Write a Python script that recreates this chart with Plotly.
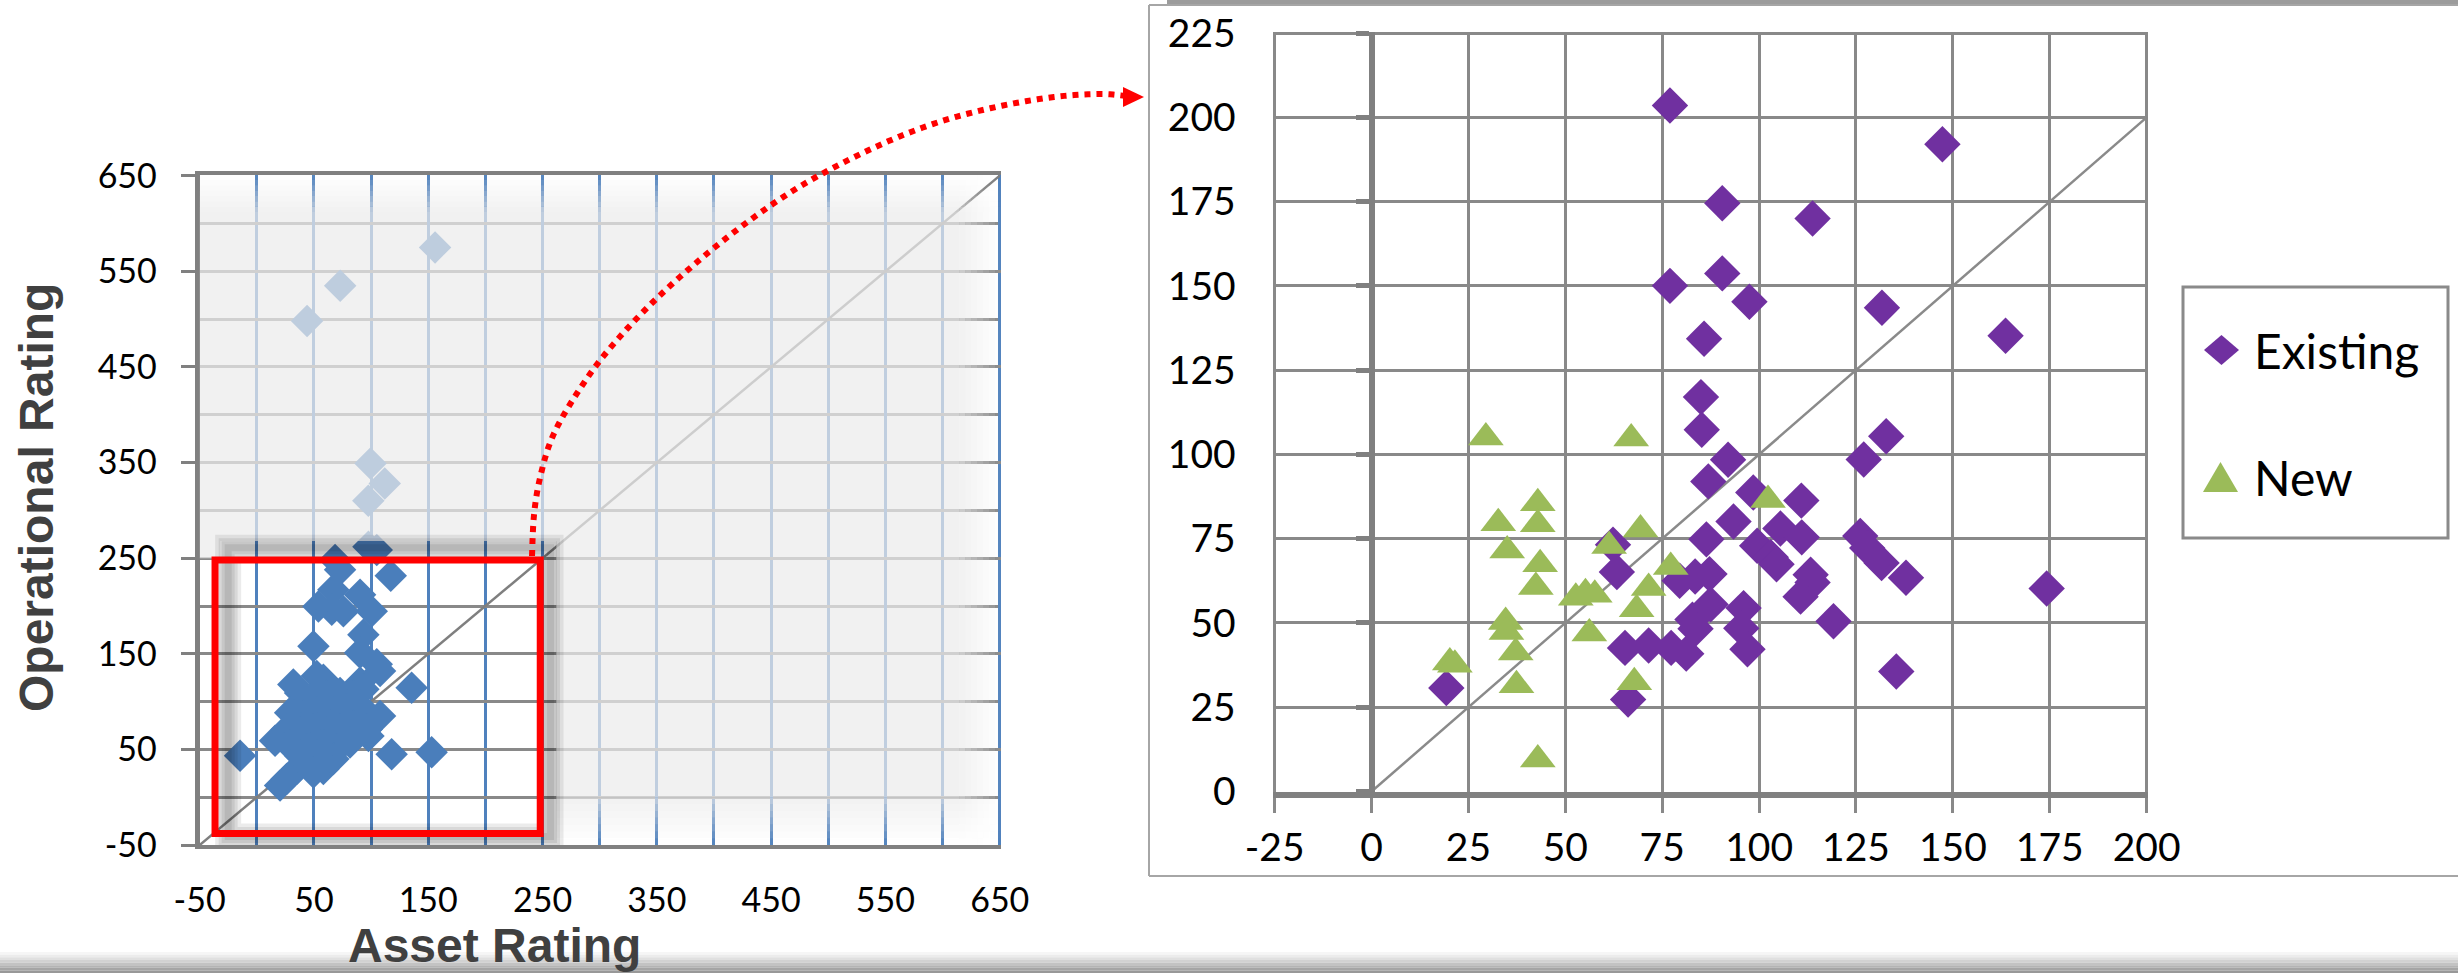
import plotly.graph_objects as go

W, H = 2458, 973

# ---------------- data: full portfolio (left panel) ----------------
all_asset = [156, 73, 44, 99.5, 112, 97.6,
             97.7, 105, 68.5, 72.9, 117.2, 67, 90.4, 53.9, 65.6, 75.8, 100.6,
             49.6, 93.3, 90.4, 105, 107.9, 135.5, 32, 52.5, 58.3, 90.4,
             -14.6, 16, 20.4, 118, 153, 107.9, 97.7,
             37.9, 46.6, 61.2, 72.9, 84.5, 93.3,
             29.2, 40.8, 52.5, 67, 78.7, 90.4,
             26.2, 37.9, 49.6, 61.2, 72.9, 84.5, 96.2,
             29.2, 43.7, 55.4, 70, 81.6,
             35, 46.6, 58.3, 67, 52.5, 37.9, 49.6, 26.2]
all_operational = [575, 535, 498, 349, 328, 310,
                   262, 258.7, 248, 237.8, 231.6, 217, 211.8, 199.6, 196.2, 194.4, 194.4,
                   158, 170, 151, 139, 132, 114.6, 118, 126.7, 123, 120,
                   43.4, 59, 12.2, 45, 47, 85, 64,
                   109, 102, 106, 109, 106, 113,
                   88.5, 85, 88.5, 88.5, 92, 95.5,
                   71, 67.7, 71.2, 67.7, 71.2, 74.6, 71.2,
                   53.8, 50.3, 53.8, 50.3, 57.3,
                   29.5, 33, 29.5, 40, 43.4, 43.4, 26, 19.1]

# ---------------- data: zoomed panel ----------------
existing_asset = [77, 147.3, 90.5, 113.8, 90.5, 77, 97.5, 131.7, 163.6, 85.8,
                  85, 85.2, 132.8, 127, 92, 86.9, 98.5, 110.9, 93.4, 86.4,
                  105.5, 111, 99.5, 126.1, 127.9, 103, 104.5, 131.6, 137.9, 113.3,
                  113.8, 110.7, 174.2, 119.2, 135.4, 62.3, 63.3, 79.5, 83.5, 87.2,
                  87.5, 82.8, 83.6, 96, 95.4, 97, 65.4, 71.5, 77.3, 81.2,
                  66.2, 19.3]
existing_operational = [203.5, 192, 174.5, 170, 153.7, 150, 145.3, 143.5, 135.2, 134.3,
                        117, 107.3, 105.4, 98.5, 98.4, 92, 88.7, 86.3, 80.1, 74.8,
                        78, 75.4, 72.9, 75.8, 72.2, 69.5, 67.4, 67.8, 63.4, 64.3,
                        62, 57.8, 60.2, 50.5, 35.6, 73.2, 65.1, 62.5, 63.8, 64.5,
                        55.5, 51, 48.3, 54.4, 48.4, 42.2, 42.6, 43.3, 42.6, 40.9,
                        27.3, 30.7]
new_asset = [29.5, 67, 42.9, 42.9, 32.7, 35, 69.4, 61.3, 102.3, 43.5,
             42.4, 77.2, 71.5, 52.7, 55.2, 57.6, 68.4, 34.6, 34.8, 56.2,
             37.2, 20.2, 21.5, 37.4, 67.8, 42.9]
new_operational = [105, 104.7, 85.5, 79.3, 79.6, 71.5, 77.7, 72.8, 86.5, 67.4,
                   60.7, 66.6, 60.4, 57.5, 58.8, 58.4, 54.1, 50.3, 47.3, 46.9,
                   41.2, 38.3, 37.6, 31.5, 32.4, 9.5]

# ---------------- tick labels ----------------
left_ticks = [-50, 50, 150, 250, 350, 450, 550, 650]
left_tick_labels = ["-50", "50", "150", "250", "350", "450", "550", "650"]
right_x_ticks = [-25, 0, 25, 50, 75, 100, 125, 150, 175, 200]
right_x_labels = ["-25", "0", "25", "50", "75", "100", "125", "150", "175", "200"]
right_y_ticks = [0, 25, 50, 75, 100, 125, 150, 175, 200, 225]
right_y_labels = ["0", "25", "50", "75", "100", "125", "150", "175", "200", "225"]


def px(x):
    return x / W


def py(y):
    return 1 - y / H


TICK_FONT = "Lato, 'Open Sans', sans-serif"
GRID_GREY = "#898989"
AXIS_GREY = "#808080"
BLUE = "#4A7EBB"

fig = go.Figure()

# identity lines
fig.add_trace(go.Scatter(x=[-50, 650], y=[-50, 650], mode="lines",
                         line=dict(color="#7f7f7f", width=2.5),
                         xaxis="x", yaxis="y", hoverinfo="skip", showlegend=False))
fig.add_trace(go.Scatter(x=[0, 200], y=[0, 200], mode="lines",
                         line=dict(color="#8a8a8a", width=2.5),
                         xaxis="x2", yaxis="y2", hoverinfo="skip", showlegend=False))

# left panel: all buildings
fig.add_trace(go.Scatter(x=all_asset, y=all_operational, mode="markers",
                         marker=dict(symbol="diamond", size=25, color=BLUE, line=dict(width=0)),
                         xaxis="x", yaxis="y", name="All", showlegend=False))

# right panel: existing vs new
fig.add_trace(go.Scatter(x=existing_asset, y=existing_operational, mode="markers",
                         marker=dict(symbol="diamond", size=28, color="#7030A0", line=dict(width=0)),
                         xaxis="x2", yaxis="y2", name="Existing", showlegend=False))
fig.add_trace(go.Scatter(x=new_asset, y=new_operational, mode="markers",
                         marker=dict(symbol="triangle-up", size=31, color="#9BBB59", line=dict(width=0)),
                         xaxis="x2", yaxis="y2", name="New", showlegend=False))

shapes = []

# ---- translucent wash over the left panel outside the highlighted window ----
A = 0.72


def wash(x0, x1, y0, y1, a):
    shapes.append(dict(type="rect", xref="x", yref="y", x0=x0, x1=x1, y0=y0, y1=y1,
                       fillcolor="rgba(236,236,236,%.3f)" % a, line=dict(width=0), layer="above"))


TOP0, TOP1 = 612, 651
RGT0, RGT1 = 615, 651
BOT0, BOT1 = -50, 0
HX, HY = 262, 268
n = 7
wash(-50, RGT0, HY, TOP0, A)
wash(HX, RGT0, BOT1, HY, A)
wash(-50, -32, 250, HY, A)
for i in range(n):
    f = 1 - (i + 0.5) / n
    ya = TOP0 + (TOP1 - TOP0) * i / n
    yb = TOP0 + (TOP1 - TOP0) * (i + 1) / n
    wash(-50, RGT0, ya, yb, A * f)
    xa = RGT0 + (RGT1 - RGT0) * i / n
    xb = RGT0 + (RGT1 - RGT0) * (i + 1) / n
    wash(xa, xb, BOT1, TOP0, A * f)
    yc = BOT1 - (BOT1 - BOT0) * (i + 1) / n
    yd = BOT1 - (BOT1 - BOT0) * i / n
    wash(HX, RGT0, yc, yd, A * f)
    for j in range(n):
        g = 1 - (j + 0.5) / n
        ya2 = TOP0 + (TOP1 - TOP0) * j / n
        yb2 = TOP0 + (TOP1 - TOP0) * (j + 1) / n
        wash(xa, xb, ya2, yb2, A * f * g)
        yc2 = BOT1 - (BOT1 - BOT0) * (j + 1) / n
        yd2 = BOT1 - (BOT1 - BOT0) * j / n
        wash(xa, xb, yc2, yd2, A * f * g)

# soft drop shadow around the highlighted window
for w in (26, 19, 13, 7):
    shapes.append(dict(type="rect", xref="x", yref="y", x0=-25, x1=257, y0=-41, y1=261,
                       line=dict(color="rgba(0,0,0,0.08)", width=w), layer="above"))

# red highlight frame
shapes.append(dict(type="rect", xref="x", yref="y", x0=-36.5, x1=248, y0=-38, y1=248,
                   line=dict(color="#FF0000", width=7), layer="above"))


# ---- dotted call-out arrow joining the panels ----
def catmull(pts, steps=10):
    P = [pts[0]] + pts + [pts[-1]]
    out = []
    for i in range(1, len(P) - 2):
        p0, p1, p2, p3 = P[i - 1], P[i], P[i + 1], P[i + 2]
        for s in range(steps):
            t = s / steps
            t2, t3 = t * t, t * t * t
            out.append(tuple(0.5 * (2 * p1[k] + (-p0[k] + p2[k]) * t
                                    + (2 * p0[k] - 5 * p1[k] + 4 * p2[k] - p3[k]) * t2
                                    + (-p0[k] + 3 * p1[k] - 3 * p2[k] + p3[k]) * t3)
                             for k in range(2)))
    out.append(pts[-1])
    return out


curve = [(532, 556), (534, 515), (540, 478), (552, 438), (574, 398), (606, 353),
         (652, 303), (709, 252), (767, 208), (818, 176), (882, 144), (939, 122),
         (996, 107), (1054, 97), (1100, 94), (1126, 96)]
pts = catmull(curve)
path = "M " + " L ".join("%.5f,%.5f" % (px(x), py(y)) for x, y in pts)
shapes.append(dict(type="path", xref="paper", yref="paper", path=path,
                   line=dict(color="#FF0000", width=6, dash="dot"), layer="above"))
shapes.append(dict(type="path", xref="paper", yref="paper",
                   path="M %.5f,%.5f L %.5f,%.5f L %.5f,%.5f Z" % (
                       px(1123), py(87), px(1144), py(97), px(1123), py(107)),
                   fillcolor="#FF0000", line=dict(width=0), layer="above"))

# ---- frame around the zoomed panel ----
shapes.append(dict(type="rect", xref="paper", yref="paper", x0=px(1167), x1=1, y0=py(5), y1=1,
                   fillcolor="#9c9c9c", line=dict(width=0), layer="below"))
for x0, y0, x1, y1 in [(1149, 5, 1149, 876), (1149, 876, 2458, 876), (1149, 5, 2458, 5)]:
    shapes.append(dict(type="line", xref="paper", yref="paper", x0=px(x0), y0=py(y0),
                       x1=px(x1), y1=py(y1), line=dict(color="#a6a6a6", width=2), layer="below"))

# ---- legend of the zoomed panel ----
shapes.append(dict(type="rect", xref="paper", yref="paper", x0=px(2183), x1=px(2448),
                   y0=py(538), y1=py(287), line=dict(color="#8a8a8a", width=3),
                   fillcolor="white", layer="above"))
shapes.append(dict(type="path", xref="paper", yref="paper",
                   path="M %.5f,%.5f L %.5f,%.5f L %.5f,%.5f L %.5f,%.5f Z" % (
                       px(2204), py(350), px(2221.5), py(335), px(2239), py(350), px(2221.5), py(365)),
                   fillcolor="#7030A0", line=dict(width=0), layer="above"))
shapes.append(dict(type="path", xref="paper", yref="paper",
                   path="M %.5f,%.5f L %.5f,%.5f L %.5f,%.5f Z" % (
                       px(2203), py(492), px(2220.5), py(462), px(2238), py(492)),
                   fillcolor="#9BBB59", line=dict(width=0), layer="above"))

# ---- grey band along the bottom edge ----
greys = [246, 236, 224, 210, 195, 180, 165, 152]
for i, g in enumerate(greys):
    shapes.append(dict(type="rect", xref="paper", yref="paper",
                       x0=0, x1=1, y0=py(952 + (i + 1) * 21 / len(greys)), y1=py(952 + i * 21 / len(greys)),
                       fillcolor="rgb(%d,%d,%d)" % (g, g, g), line=dict(width=0), layer="above"))

annotations = [
    dict(text="<b>Operational Rating</b>", x=px(36), y=py(498), xref="paper", yref="paper",
         textangle=-90, showarrow=False, xanchor="center", yanchor="middle",
         font=dict(family="Liberation Sans, Arial, sans-serif", size=48, color="#404040")),
    dict(text="<b>Asset Rating</b>", x=px(494), y=py(945), xref="paper", yref="paper",
         showarrow=False, xanchor="center", yanchor="middle",
         font=dict(family="Liberation Sans, Arial, sans-serif", size=48, color="#404040")),
    dict(text="Existing", x=px(2252), y=py(350), xref="paper", yref="paper",
         showarrow=False, xanchor="left", yanchor="middle",
         font=dict(family=TICK_FONT, size=48, color="#000000")),
    dict(text="New", x=px(2252), y=py(477), xref="paper", yref="paper",
         showarrow=False, xanchor="left", yanchor="middle",
         font=dict(family=TICK_FONT, size=48, color="#000000")),
]

# right panel geometry: x range [-25.4, 200.4], zero line at pixel 1371.5
fig.update_layout(
    template="none",
    width=W, height=H, autosize=False,
    margin=dict(l=0, r=0, t=0, b=0, pad=0, autoexpand=False),
    paper_bgcolor="white", plot_bgcolor="white",
    showlegend=False,
    shapes=shapes, annotations=annotations,
    xaxis=dict(domain=[px(199.6), px(1000.9)], range=[-50, 651], anchor="y", automargin=False,
               tickmode="array", tickvals=left_ticks, ticktext=left_tick_labels,
               showgrid=True, gridcolor="#4F81BD", gridwidth=3,
               minor=dict(tickmode="linear", tick0=-50, dtick=50, showgrid=True,
                          gridcolor="#4F81BD", gridwidth=3, ticks=""),
               showline=True, linecolor=AXIS_GREY, linewidth=4, mirror=True,
               zeroline=False, ticks="", ticklabelstandoff=22,
               tickfont=dict(family=TICK_FONT, size=34, color="#000000")),
    yaxis=dict(domain=[py(845.1), py(174.7)], range=[-50, 651], anchor="x", automargin=False,
               tickmode="array", tickvals=left_ticks, ticktext=left_tick_labels,
               showgrid=True, gridcolor=GRID_GREY, gridwidth=3,
               minor=dict(tickmode="linear", tick0=-50, dtick=50, showgrid=True,
                          gridcolor=GRID_GREY, gridwidth=3, ticks=""),
               showline=True, linecolor=AXIS_GREY, linewidth=5,
               zeroline=False, ticks="outside", ticklen=14, tickwidth=3, tickcolor=AXIS_GREY,
               ticklabelstandoff=17,
               tickfont=dict(family=TICK_FONT, size=34, color="#000000")),
    xaxis2=dict(domain=[px(1273.1), px(2148.2)], range=[-25.4, 200.4], anchor="y2", automargin=False,
                tickmode="array", tickvals=right_x_ticks, ticktext=right_x_labels,
                showgrid=True, gridcolor=GRID_GREY, gridwidth=3,
                showline=True, linecolor=AXIS_GREY, linewidth=6,
                zeroline=False, ticks="outside", ticklen=15, tickwidth=3, tickcolor=GRID_GREY,
                ticklabelstandoff=2,
                tickfont=dict(family=TICK_FONT, size=39, color="#000000")),
    yaxis2=dict(domain=[py(791.5), py(31.7)], range=[0, 225.4], anchor="free", automargin=False,
                position=px(1371.5),
                tickmode="array", tickvals=right_y_ticks, ticktext=right_y_labels,
                showgrid=True, gridcolor=GRID_GREY, gridwidth=3,
                showline=True, linecolor=AXIS_GREY, linewidth=6,
                zeroline=False, ticks="outside", ticklen=13, tickwidth=5, tickcolor=AXIS_GREY,
                ticklabelstandoff=112,
                tickfont=dict(family=TICK_FONT, size=39, color="#000000")),
)

fig.write_html("out.html")
